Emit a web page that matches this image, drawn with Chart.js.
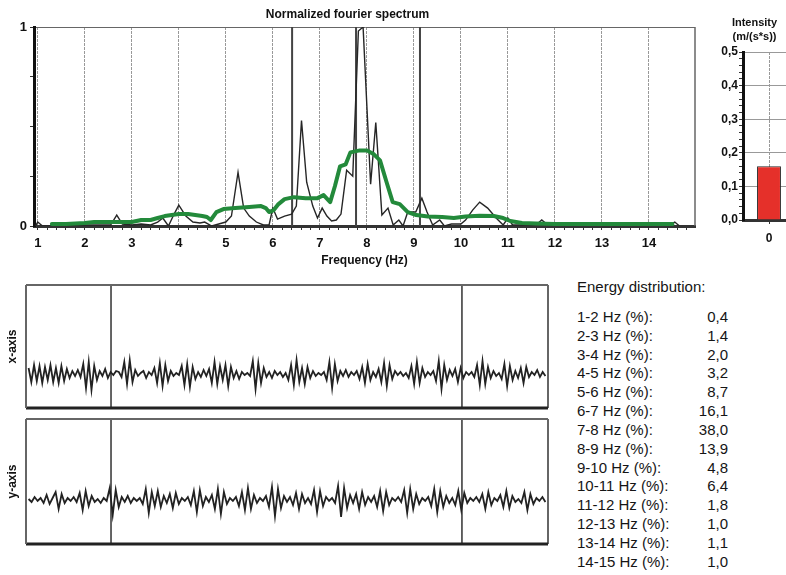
<!DOCTYPE html>
<html>
<head>
<meta charset="utf-8">
<script src="https://cdn.jsdelivr.net/npm/chart.js@4.4.1/dist/chart.umd.min.js"></script>
<style>
  html, body { margin: 0; padding: 0; background: #fff; }
  body { width: 786px; height: 575px; overflow: hidden; position: relative;
         font-family: "Liberation Sans", Arial, sans-serif; color: #151515; }
  canvas { position: absolute; }
  #energy { position: absolute; left: 577px; top: 278px; font-size: 15px; line-height: 18.85px; }
  #energy .head { margin-bottom: 11px; white-space: nowrap; }
  #energy .row { display: flex; }
  #energy .lbl { flex: none; width: 85px; white-space: nowrap; }
  #energy .val { flex: none; width: 66px; text-align: right; }
</style>
</head>
<body>
<canvas id="spectrum" width="700" height="270" style="left:0;top:0"></canvas>
<canvas id="intensity" width="82" height="260" style="left:714px;top:0"></canvas>
<canvas id="waveX" width="560" height="140" style="left:0;top:275px"></canvas>
<canvas id="waveY" width="560" height="140" style="left:0;top:410px"></canvas>
<div id="energy"></div>

<script>
// ---- spectrum (raw, black) ----
const specFreq = [0.95, 1.0, 1.1, 1.3, 1.6, 2.0, 2.3, 2.55, 2.68, 2.8, 3.0, 3.2, 3.4, 3.55, 3.66, 3.78, 3.9, 4.0,
  4.15, 4.3, 4.45, 4.55, 4.7, 4.85, 5.0, 5.12, 5.26, 5.38, 5.5, 5.65, 5.8, 5.92, 6.0, 6.1, 6.25, 6.4, 6.5, 6.61,
  6.72, 6.85, 6.95, 7.05, 7.15, 7.25, 7.35, 7.45, 7.57, 7.7, 7.82, 7.92, 8.08, 8.19, 8.32, 8.45, 8.56, 8.68, 8.77,
  8.87, 9.04, 9.17, 9.28, 9.4, 9.55, 9.65, 9.8, 10.0, 10.1, 10.25, 10.4, 10.57, 10.75, 10.9, 11.0, 11.1, 11.3,
  11.5, 11.62, 11.72, 11.85, 12.0, 12.5, 13.0, 13.5, 14.0, 14.4, 14.55, 14.65];
const specAmp = [0, 0.02, 0, 0, 0.005, 0.005, 0.005, 0.005, 0.055, 0.01, 0.005, 0.01, 0.005, 0.02, 0.04, 0, 0.06, 0.105,
  0.05, 0.02, 0.015, 0.02, 0, 0.01, 0.02, 0.05, 0.27, 0.09, 0.05, 0.02, 0.005, 0.005, 0.09, 0.035, 0.05, 0.06, 0.1, 0.53,
  0.22, 0.1, 0.04, 0.09, 0.05, 0.025, 0.03, 0.06, 0.28, 0.25, 0.98, 1.0, 0.21, 0.52, 0.055, 0.09, 0.005, 0.03, 0,
  0.07, 0.07, 0.14, 0.07, 0.005, 0.03, 0, 0.01, 0.01, 0.03, 0.08, 0.12, 0.09, 0.04, 0.005, 0.04, 0.005, 0.005,
  0.005, 0.01, 0.03, 0.005, 0, 0, 0, 0, 0, 0, 0.02, 0];

// ---- spectrum (smoothed, green) ----
const smoothFreq = [1.3, 1.6, 2.0, 2.2, 2.5, 2.8, 3.0, 3.2, 3.4, 3.55, 3.7, 3.85, 4.0, 4.2, 4.35, 4.5, 4.6, 4.68,
  4.8, 4.95, 5.2, 5.5, 5.75, 5.85, 5.92, 6.02, 6.12, 6.25, 6.45, 6.7, 6.95, 7.08, 7.22, 7.32, 7.43, 7.55, 7.65,
  7.85, 8.0, 8.15, 8.28, 8.42, 8.55, 8.7, 8.87, 9.05, 9.3, 9.6, 9.85, 10.1, 10.4, 10.7, 10.9, 11.05, 11.3, 11.6,
  12.0, 12.5, 13.0, 13.5, 14.0, 14.5];
const smoothAmp = [0.01, 0.01, 0.015, 0.02, 0.02, 0.02, 0.02, 0.03, 0.03, 0.04, 0.05, 0.055, 0.06, 0.06, 0.055, 0.05,
  0.045, 0.03, 0.07, 0.085, 0.09, 0.095, 0.1, 0.09, 0.07, 0.08, 0.11, 0.135, 0.145, 0.14, 0.14, 0.155, 0.12, 0.2,
  0.3, 0.31, 0.37, 0.38, 0.38, 0.36, 0.33, 0.22, 0.12, 0.11, 0.07, 0.055, 0.048, 0.045, 0.04, 0.048, 0.052, 0.05,
  0.04, 0.025, 0.015, 0.012, 0.01, 0.01, 0.01, 0.01, 0.01, 0.01];

const markerFreq = [6.41, 7.77, 9.13];
const freqTickLabels = [1, 2, 3, 4, 5, 6, 7, 8, 9, 10, 11, 12, 13, 14];
const ampTickLabels = [0, 1];

// ---- intensity bar ----
const intensityCats = ['0'];
const intensityVals = [0.16];
const intensityTicks = [0, 0.1, 0.2, 0.3, 0.4, 0.5];

// ---- time records ----
const recordSeconds = 20;
const markerTimes = [3.19, 16.77];
const waveXRange = [-34, 89];
const waveYRange = [-44, 81];
const waveX = [
  6, -8, 9, -7, 8, -9, 7, -6, 9, -8, 6, -9, 8, -7, 5, -4, 3, -2, 4, -3,
  10, -14, 12, -16, 8, -6, 3, -2, 5, -4, 2, -1, 3,
  2, -3, 12, -10, 14, -8, 4, -2, 1, 3, -4, 2, -1, 6, -9, 11, -12, 9, -7, 3, -2, 1, -1, 8, -11, 10, -13, 7, -5, 2, -3, 4, -2,
  5, -9, 12, -10, 8, -6, 9, -12, 7, -4, 3, -5, 2, -1, 1, -2, 13, -15, 11, -9, 6, -3, 2, -4, 3, -1, 2, -3, 1, -6, 9, -11, 14, -8, 6, -10, 7, -4, 3, -2,
  1, -1, 2, -6, 12, -14, 10, -7, 3, -2, 4, -3, 2, -1, 3, -5, 7, -9, 10, -6, 2, -3, 5, -8, 11, -12, 9, -5, 3, -1, 2, -2, 1, -4, 8, -10, 12, -9, 6, -3,
  2, -1, 3, -7, 13, -15, 9, -6, 4, -2, 5, -8, 6, -4, 2, -1, 2, -3, 9, -11, 13, -10, 7, -4, 3, -2, 1, -5, 10, -12, 8, -6, 3, -4, 6, -9, 7, -3, 2, -1, 4, -3, 2, -2
];
const waveY = [
  1, -2, 3, -1, 2, -3, 5, -4, 2, 8, -9, 6, -3, 2, -1, 3, -2, 7, -10, 9, -6, 4, -2, 1, -3, 2, -1,
  12, -15, 10, -7, 3, -2, 4, -3, 2, -1, 2, -4,
  11, -13, 8, -6, 9, -7, 4, -3, 6, -8, 7, -4, 2, -1, 3, -5, 9, -12, 10, -6, 3, -2, 5, -9, 11, -14, 8, -4, 2, -1, 3, -6, 8, -10,
  12, -9, 5, -3, 2, -1, 4, -7, 13, -16, 11, -8, 4, -2, 3, -5, 7, -9, 6, -3, 2, -4, 10, -12, 9, -6, 3, -1, 2, -3,
  14, -17, 12, -8, 5, -3, 6, -9, 8, -5, 3, -2, 4, -7, 9, -11, 8, -5, 2, -1, 3, -2, 10, -13, 11, -9, 6, -4, 2, -1,
  3, -6, 11, -12, 9, -7, 4, -3, 2, -5, 9, -10, 7, -3, 2, -1, 3, -2, 6, -9, 8, -5, 2, -1,
  5, -7, 9, -8, 4, -2, 1, -3, 8, -10, 6, -4, 2, -1, 3, -2
];

// ---- energy table ----
const bands = ['1-2', '2-3', '3-4', '4-5', '5-6', '6-7', '7-8', '8-9', '9-10', '10-11', '11-12', '12-13', '13-14', '14-15'];
const energyPct = [0.4, 1.4, 2.0, 3.2, 8.7, 16.1, 38.0, 13.9, 4.8, 6.4, 1.8, 1.0, 1.1, 1.0];

Chart.defaults.font.family = '"Liberation Sans", Arial, sans-serif';
Chart.defaults.color = '#111';

const isTick = (v, list) => list.some(t => Math.abs(t - v) < 1e-6);
const bold = size => ({ size, weight: 'bold' });
const clear = 'rgba(0,0,0,0)';

// draws chosen sides of the plot frame
const framePlugin = {
  id: 'frame',
  afterDraw(chart, args, opts) {
    const { ctx, chartArea: a } = chart;
    const sides = {
      top: [a.left, a.top, a.right, a.top],
      right: [a.right, a.top, a.right, a.bottom],
      bottom: [a.left, a.bottom, a.right, a.bottom],
      left: [a.left, a.top, a.left, a.bottom]
    };
    ctx.save();
    Object.keys(sides).forEach(k => {
      if (!opts[k]) return;
      const [x1, y1, x2, y2] = sides[k];
      ctx.strokeStyle = opts[k].color;
      ctx.lineWidth = opts[k].width;
      ctx.setLineDash([]);
      ctx.beginPath();
      ctx.moveTo(x1, y1);
      ctx.lineTo(x2, y2);
      ctx.stroke();
    });
    ctx.restore();
  }
};

// ==============================
// Normalized fourier spectrum
// ==============================
new Chart(document.getElementById('spectrum'), {
  type: 'line',
  data: {
    datasets: [
      { data: smoothFreq.map((f, i) => ({ x: f, y: smoothAmp[i] })), borderColor: '#238a3b', borderWidth: 4,
        pointRadius: 0, borderJoinStyle: 'round', borderCapStyle: 'round' },
      { data: specFreq.map((f, i) => ({ x: f, y: specAmp[i] })), borderColor: '#262626', borderWidth: 1.4, pointRadius: 0 },
      { data: markerFreq.flatMap(f => [{ x: f, y: 0 }, { x: f, y: 1 }, { x: f, y: null }]), borderColor: '#444',
        borderWidth: 2, pointRadius: 0, spanGaps: false }
    ]
  },
  options: {
    responsive: false, animation: false, events: [],
    layout: { padding: { left: 0, right: 5, top: 0, bottom: 0 } },
    plugins: {
      legend: { display: false }, tooltip: { enabled: false },
      title: { display: true, text: 'Normalized fourier spectrum', font: bold(12), color: '#111', padding: { top: 7, bottom: 5.6 } },
      frame: { right: { color: '#666', width: 1.5 } }
    },
    scales: {
      x: {
        type: 'linear', min: 0.92, max: 14.98,
        afterFit: s => { s.height = 44; },
        ticks: { stepSize: 0.2, includeBounds: false, autoSkip: false, maxRotation: 0, padding: 6, font: bold(13),
          color: '#111', callback: v => isTick(v, freqTickLabels) ? String(Math.round(v)) : '' },
        grid: { color: c => isTick(c.tick.value, freqTickLabels) ? '#999' : clear, borderDash: [2, 2],
          tickColor: '#333', tickLength: 4, tickBorderDash: [] },
        border: { color: '#333', width: 3, dash: [3, 1] },
        title: { display: true, text: 'Frequency (Hz)', font: bold(12), color: '#111', padding: { top: 0, bottom: 2 } }
      },
      y: {
        min: 0, max: 1,
        afterFit: s => { s.width = 34; },
        ticks: { stepSize: 0.25, autoSkip: false, padding: 3, font: bold(13), color: '#111',
          callback: v => isTick(v, ampTickLabels) ? String(v) : '' },
        grid: { color: c => c.tick.value === 1 ? '#666' : clear, borderDash: [2, 2],
          tickColor: '#333', tickLength: 4, tickBorderDash: [] },
        border: { color: '#111', width: 3 }
      }
    }
  },
  plugins: [framePlugin]
});

// ==============================
// Intensity bar
// ==============================
new Chart(document.getElementById('intensity'), {
  type: 'bar',
  data: {
    labels: intensityCats,
    datasets: [{ data: intensityVals, backgroundColor: '#e5302a', borderColor: '#2a2a2a', borderWidth: 1,
      categoryPercentage: 1, barPercentage: 0.46 }]
  },
  options: {
    responsive: false, animation: false, events: [],
    layout: { padding: { left: 0, right: 1, top: 0, bottom: 0 } },
    plugins: {
      legend: { display: false }, tooltip: { enabled: false },
      title: { display: true, text: ['Intensity', '(m/(s*s))'], font: { size: 11, weight: 'bold', lineHeight: 1.3 },
        color: '#111', padding: { top: 16, bottom: 7.4 } }
    },
    scales: {
      x: {
        afterFit: s => { s.height = 40; },
        ticks: { padding: 7, font: bold(12), color: '#111' },
        grid: { offset: false, color: '#999', borderDash: [2, 2], tickColor: '#333', tickLength: 4, tickBorderDash: [] },
        border: { color: '#333', width: 3, dash: [3, 1] }
      },
      y: {
        min: 0, max: 0.5,
        afterFit: s => { s.width = 29; },
        ticks: { stepSize: 0.02, autoSkip: false, padding: 1, font: bold(12), color: '#111',
          callback: v => isTick(v, intensityTicks) ? v.toFixed(1).replace('.', ',') : '' },
        grid: { color: c => isTick(c.tick.value, intensityTicks) && c.tick.value > 0 ? '#999' : clear,
          borderDash: [2, 2], tickColor: '#333', tickLength: 4, tickBorderDash: [] },
        border: { color: '#111', width: 3 }
      }
    }
  }
});

// ==============================
// Time records
// ==============================
const waveChart = (id, values, label, range, pad) => {
  const dt = recordSeconds / (values.length - 1);
  new Chart(document.getElementById(id), {
    type: 'line',
    data: {
      datasets: [
        { data: values.map((v, i) => ({ x: i * dt, y: v })), borderColor: '#222', borderWidth: 1.8, pointRadius: 0 },
        { data: markerTimes.flatMap(t => [{ x: t, y: range[0] }, { x: t, y: range[1] }, { x: t, y: null }]),
          borderColor: '#333', borderWidth: 1.5, pointRadius: 0, spanGaps: false }
      ]
    },
    options: {
      responsive: false, animation: false, events: [],
      layout: { padding: pad },
      plugins: {
        legend: { display: false }, tooltip: { enabled: false },
        frame: {
          top: { color: '#666', width: 2 }, left: { color: '#666', width: 2 },
          right: { color: '#666', width: 2 }, bottom: { color: '#222', width: 3 }
        }
      },
      scales: {
        x: { type: 'linear', display: false, min: -0.1, max: recordSeconds + 0.1 },
        y: {
          min: range[0], max: range[1],
          afterFit: s => { s.width = 26; },
          ticks: { display: false }, grid: { display: false }, border: { display: false },
          title: { display: true, text: label, font: bold(12), color: '#111', padding: { top: 5, bottom: 0 } }
        }
      }
    },
    plugins: [framePlugin]
  });
};

waveChart('waveX', waveX, 'x-axis', waveXRange, { left: 0, right: 12, top: 10, bottom: 7 });
waveChart('waveY', waveY, 'y-axis', waveYRange, { left: 0, right: 12, top: 9, bottom: 6 });

// ==============================
// Energy distribution
// ==============================
const energy = document.getElementById('energy');
energy.innerHTML = '<div class="head">Energy distribution:</div>' +
  bands.map((b, i) => `<div class="row"><span class="lbl">${b} Hz (%):</span>` +
    `<span class="val">${energyPct[i].toFixed(1).replace('.', ',')}</span></div>`).join('');
</script>
</body>
</html>
